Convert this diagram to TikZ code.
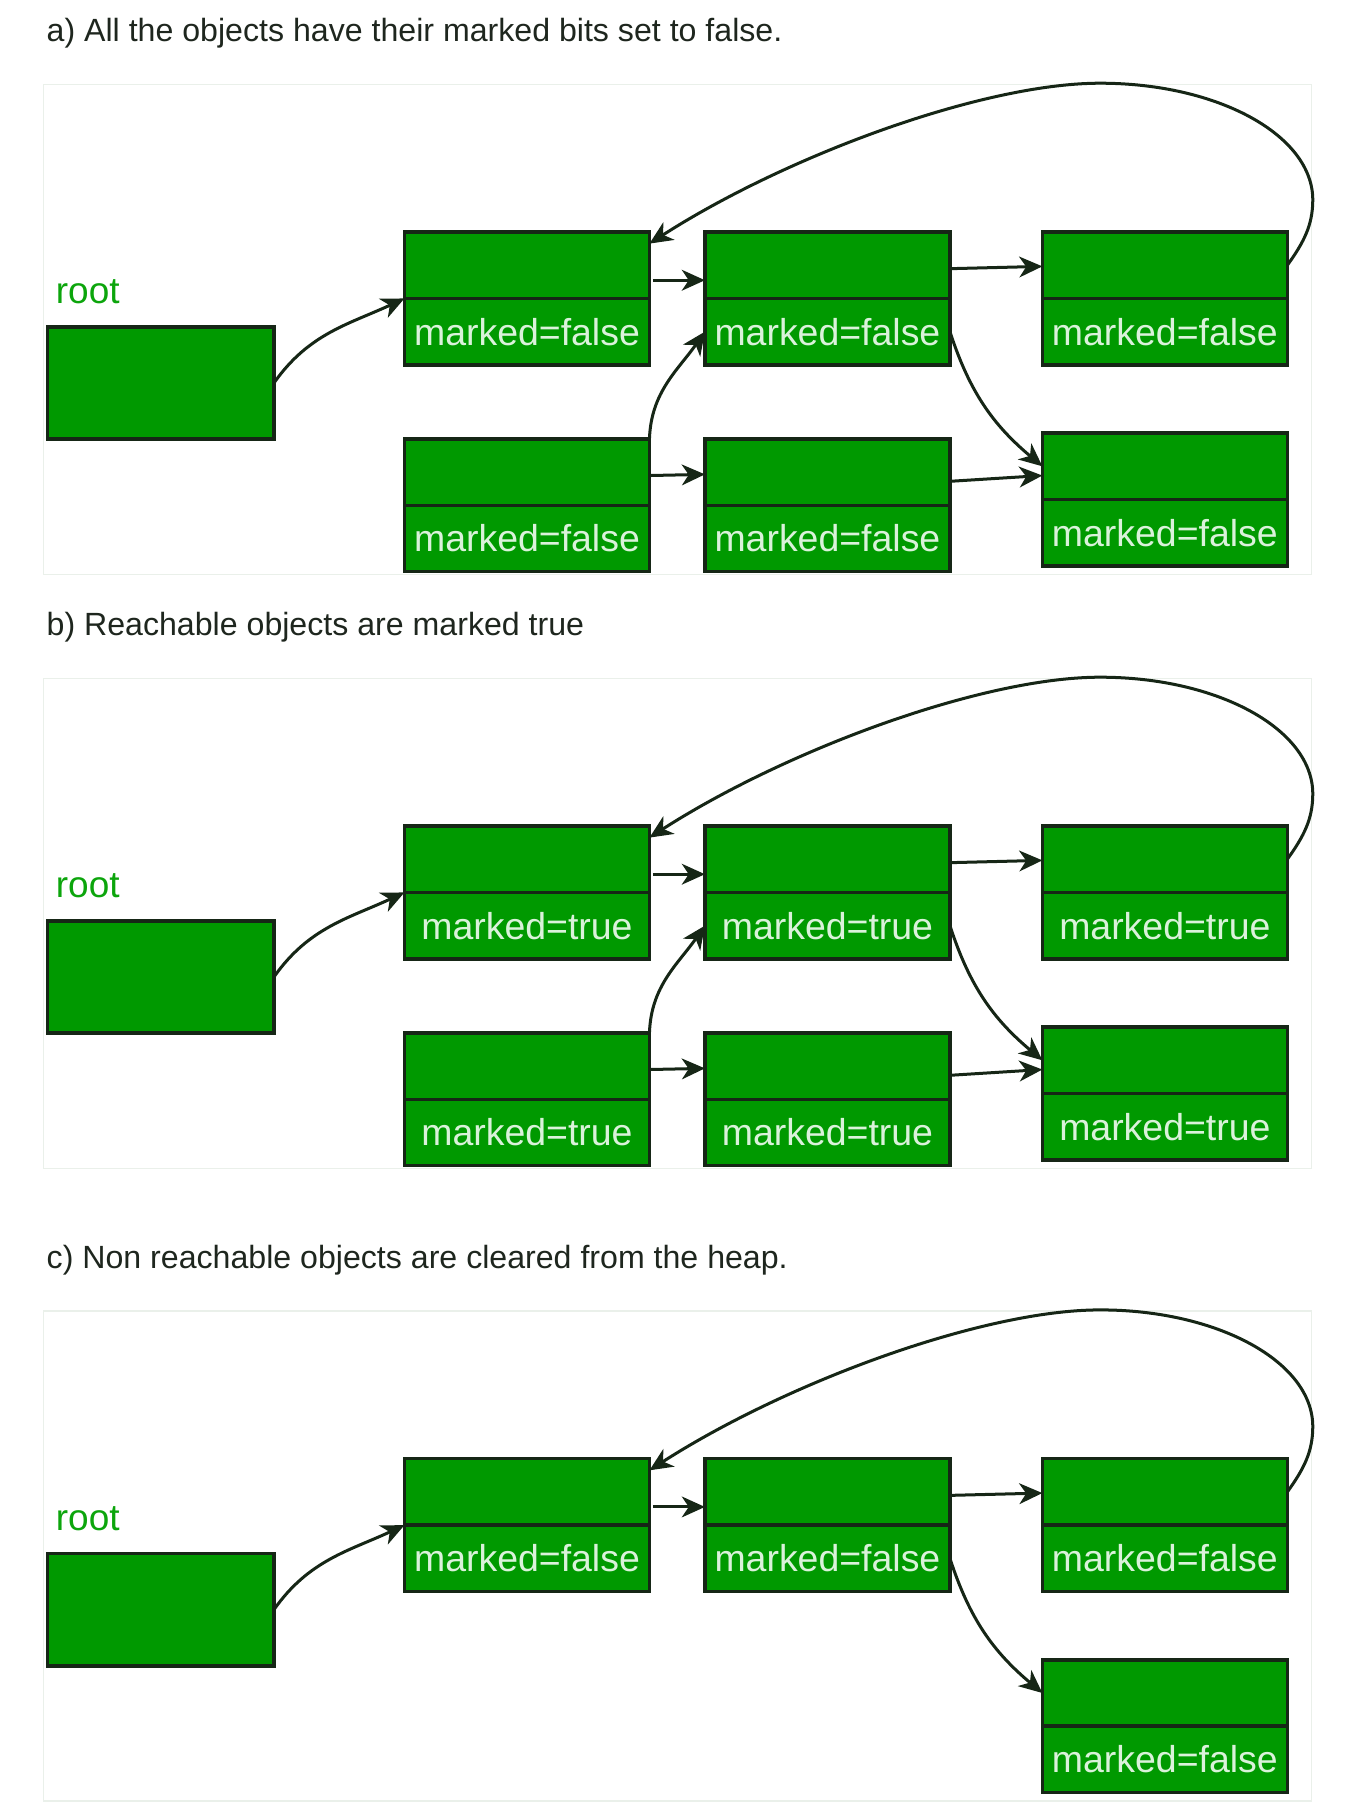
\documentclass[tikz,border=0pt]{standalone}
\usepackage{fontspec}
\setmainfont{Liberation Sans}
\usetikzlibrary{arrows.meta,positioning}
\definecolor{boxgreen}{RGB}{0,153,0}
\definecolor{boxedge}{RGB}{22,38,22}
\definecolor{valtext}{RGB}{218,242,218}
\definecolor{rootgreen}{RGB}{12,165,12}
\definecolor{titletext}{RGB}{30,38,30}
\definecolor{panelline}{RGB}{234,240,234}

\begin{document}
\begin{tikzpicture}[x=0.5pt, y=0.5pt]
  \tikzstyle{cell}=[rectangle, draw=boxedge, fill=boxgreen, line width=1.5pt, minimum width=106pt, minimum height=28.75pt, inner sep=1pt, outer sep=0pt, text=valtext]
  \tikzstyle{rootbox}=[rectangle, draw=boxedge, fill=boxgreen, line width=1.5pt, minimum width=98pt, minimum height=48.5pt, outer sep=0pt]
  \tikzstyle{valtext}=[font=\fontsize{16.2}{19}\selectfont]
  \tikzstyle{rootlabel}=[anchor=base west, inner sep=0pt, text=rootgreen, font=\fontsize{16}{19}\selectfont]
  \tikzstyle{title}=[anchor=base west, inner sep=0pt, text=titletext, font=\fontsize{13.9}{17}\selectfont]
  \tikzstyle{panel}=[draw=panelline, line width=0.5pt]
  \tikzstyle{arrow}=[-{Stealth[length=10pt, width=9pt, inset=3pt]}, draw=boxedge, line width=1.3pt]

  \useasboundingbox (0,0) rectangle (1170,-1568);

  % a) all objects unmarked
  \node[title] (ta) at (40,-36) {a) All the objects have their marked bits set to false.};
  \draw[panel] (38,-73) rectangle (1135,-497);
  \node[rootlabel] (la) at (48,-263) {root};
  \node[rootbox] (ra) at (139,-331.5) {};
  \node[cell] (a1) at (456,-229.5) {};
  \node[cell, valtext, below=0pt of a1] (a1m) {marked=false};
  \node[cell] (a2) at (716,-229.5) {};
  \node[cell, valtext, below=0pt of a2] (a2m) {marked=false};
  \node[cell] (a3) at (1008,-229.5) {};
  \node[cell, valtext, below=0pt of a3] (a3m) {marked=false};
  \node[cell] (a4) at (456,-408.5) {};
  \node[cell, valtext, below=0pt of a4] (a4m) {marked=false};
  \node[cell] (a5) at (716,-408.5) {};
  \node[cell, valtext, below=0pt of a5] (a5m) {marked=false};
  \node[cell] (a6) at (1008,-403.5) {};
  \node[cell, valtext, below=0pt of a6] (a6m) {marked=false};

  \draw[arrow] (ra.east) to[out=55, in=205] (a1.south west);
  \draw[arrow, shorten <=1.5pt] ([yshift=-6.5pt]a1.east) -- ([yshift=-6.5pt]a2.west);
  \draw[arrow] ([yshift=-1.5pt]a2.east) -- ([yshift=-0.5pt]a3.west);
  \draw[arrow] (a3.east) .. controls (1128,-210) and (1136,-195) .. (1136,-173) .. controls (1136,-117) and (1054,-72) .. (952,-72) .. controls (850,-72) and (680,-135) .. (a1.10);
  \draw[arrow] (a2m.east) to[out=-72, in=140] (a6.west);
  \draw[arrow] (a4.north east) to[out=88, in=235] (a2m.west);
  \draw[arrow] ([yshift=-1.5pt]a4.east) -- ([yshift=-1pt]a5.west);
  \draw[arrow] ([yshift=-4pt]a5.east) -- ([yshift=-4pt]a6.west);

  % b) reachable objects marked
  \begin{scope}[yshift=-257pt]
  \node[title] (tb) at (40,-36) {b) Reachable objects are marked true};
  \draw[panel] (38,-73) rectangle (1135,-497);
  \node[rootlabel] (lb) at (48,-263) {root};
  \node[rootbox] (rb) at (139,-331.5) {};
  \node[cell] (b1) at (456,-229.5) {};
  \node[cell, valtext, below=0pt of b1] (b1m) {marked=true};
  \node[cell] (b2) at (716,-229.5) {};
  \node[cell, valtext, below=0pt of b2] (b2m) {marked=true};
  \node[cell] (b3) at (1008,-229.5) {};
  \node[cell, valtext, below=0pt of b3] (b3m) {marked=true};
  \node[cell] (b4) at (456,-408.5) {};
  \node[cell, valtext, below=0pt of b4] (b4m) {marked=true};
  \node[cell] (b5) at (716,-408.5) {};
  \node[cell, valtext, below=0pt of b5] (b5m) {marked=true};
  \node[cell] (b6) at (1008,-403.5) {};
  \node[cell, valtext, below=0pt of b6] (b6m) {marked=true};

  \draw[arrow] (rb.east) to[out=55, in=205] (b1.south west);
  \draw[arrow, shorten <=1.5pt] ([yshift=-6.5pt]b1.east) -- ([yshift=-6.5pt]b2.west);
  \draw[arrow] ([yshift=-1.5pt]b2.east) -- ([yshift=-0.5pt]b3.west);
  \draw[arrow] (b3.east) .. controls (1128,-210) and (1136,-195) .. (1136,-173) .. controls (1136,-117) and (1054,-72) .. (952,-72) .. controls (850,-72) and (680,-135) .. (b1.10);
  \draw[arrow] (b2m.east) to[out=-72, in=140] (b6.west);
  \draw[arrow] (b4.north east) to[out=88, in=235] (b2m.west);
  \draw[arrow] ([yshift=-1.5pt]b4.east) -- ([yshift=-1pt]b5.west);
  \draw[arrow] ([yshift=-4pt]b5.east) -- ([yshift=-4pt]b6.west);
  \end{scope}

  % c) unreachable objects swept
  \begin{scope}[yshift=-530.75pt]
  \node[title] (tc) at (40,-36) {c) Non reachable objects are cleared from the heap.};
  \draw[panel] (38,-73) rectangle (1135,-497);
  \node[rootlabel] (lc) at (48,-263) {root};
  \node[rootbox] (rc) at (139,-331.5) {};
  \node[cell] (c1) at (456,-229.5) {};
  \node[cell, valtext, below=0pt of c1] (c1m) {marked=false};
  \node[cell] (c2) at (716,-229.5) {};
  \node[cell, valtext, below=0pt of c2] (c2m) {marked=false};
  \node[cell] (c3) at (1008,-229.5) {};
  \node[cell, valtext, below=0pt of c3] (c3m) {marked=false};
  \node[cell] (c6) at (1008,-403.5) {};
  \node[cell, valtext, below=0pt of c6] (c6m) {marked=false};

  \draw[arrow] (rc.east) to[out=55, in=205] (c1.south west);
  \draw[arrow, shorten <=1.5pt] ([yshift=-6.5pt]c1.east) -- ([yshift=-6.5pt]c2.west);
  \draw[arrow] ([yshift=-1.5pt]c2.east) -- ([yshift=-0.5pt]c3.west);
  \draw[arrow] (c3.east) .. controls (1128,-210) and (1136,-195) .. (1136,-173) .. controls (1136,-117) and (1054,-72) .. (952,-72) .. controls (850,-72) and (680,-135) .. (c1.10);
  \draw[arrow] (c2m.east) to[out=-72, in=140] (c6.west);
  \end{scope}
\end{tikzpicture}
\end{document}
